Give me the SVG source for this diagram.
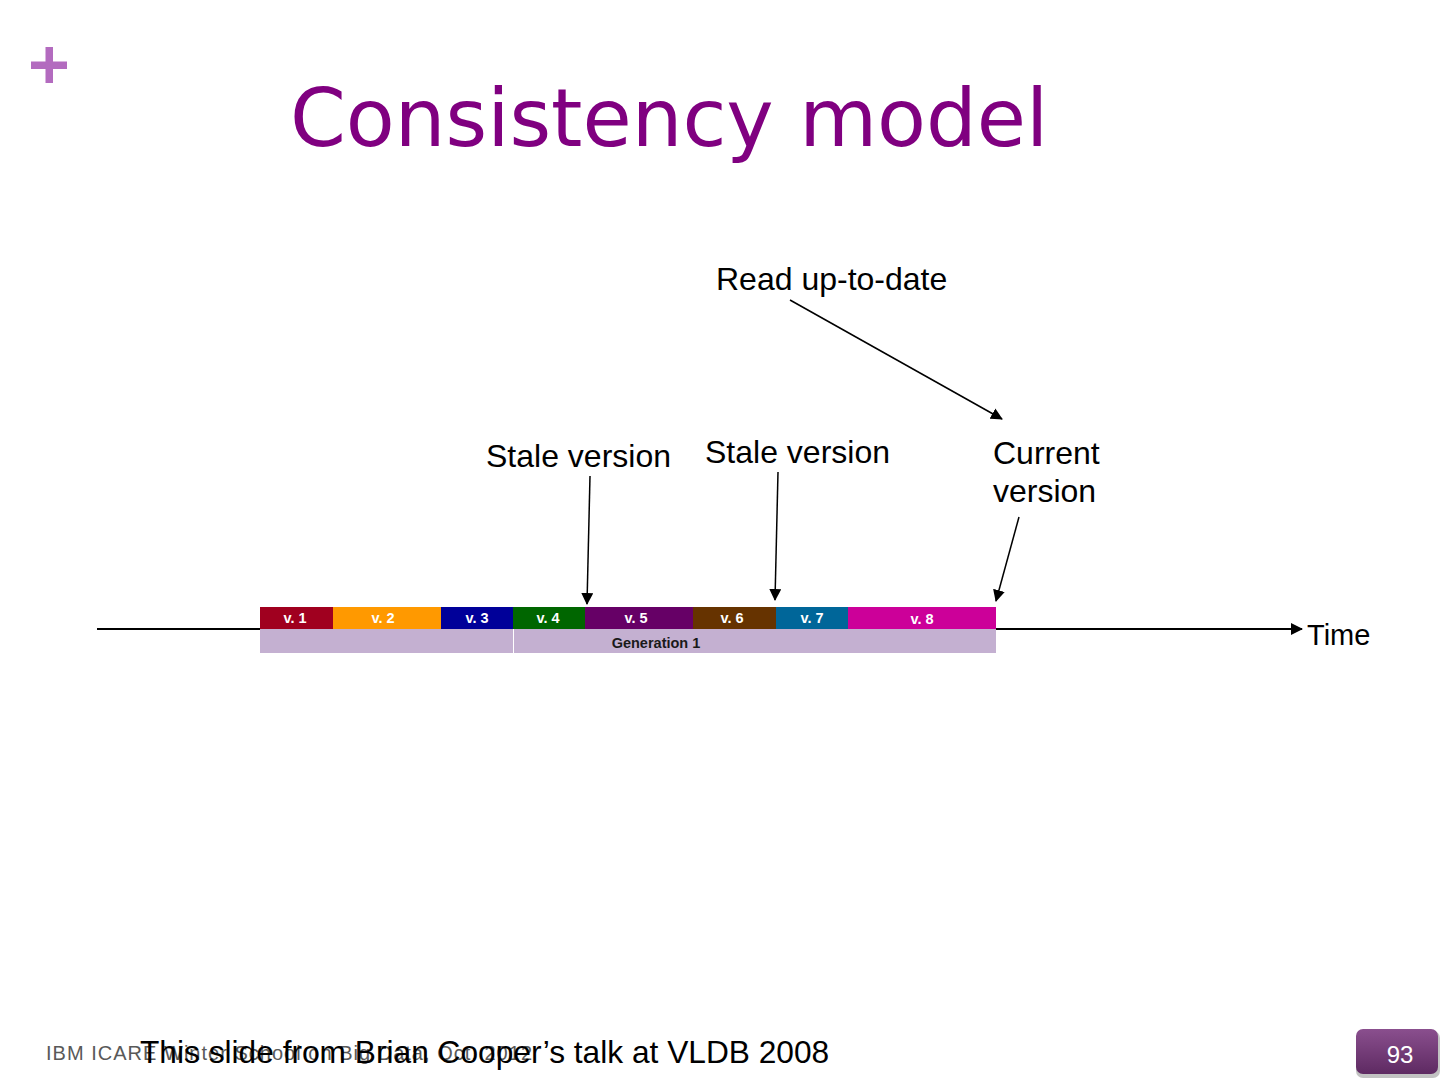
<svg xmlns="http://www.w3.org/2000/svg" width="1440" height="1080" viewBox="0 0 1440 1080">
<defs>
<marker id="ah" markerWidth="12" markerHeight="12" refX="11" refY="6" orient="auto" markerUnits="userSpaceOnUse">
<path d="M0,0 L12,6 L0,12 z" fill="#000"/>
</marker>
<linearGradient id="pg" x1="0" y1="0" x2="0" y2="1">
<stop offset="0" stop-color="#8a4f8e"/>
<stop offset="1" stop-color="#5e2a62"/>
</linearGradient>
</defs>
<style>
.lbl{font-family:"Liberation Sans",Arial,sans-serif;font-size:32px;fill:#000}
.ver{font-family:"Liberation Sans",Arial,sans-serif;font-size:14.5px;font-weight:bold;fill:#fff;text-anchor:middle}
.con{stroke:#000;stroke-width:1.5;fill:none;marker-end:url(#ah)}
</style>
<rect width="1440" height="1080" fill="#fff"/>
<g id="plus" fill="#b36bbf">
<rect x="31" y="61.5" width="36" height="7.5"/>
<rect x="45.5" y="47" width="7.5" height="36"/>
</g>
<text id="title" x="290" y="146" font-family="DejaVu Sans, sans-serif" font-size="80" fill="#800080">Consistency model</text>
<g id="connectors">
<line x1="97" y1="629" x2="1302" y2="629" stroke="#000" stroke-width="2" marker-end="url(#ah)"/>
<line class="con" x1="790" y1="300" x2="1002" y2="419"/>
<line class="con" x1="590" y1="476" x2="587" y2="604"/>
<line class="con" x1="778" y1="472" x2="775" y2="600"/>
<line class="con" x1="1019" y1="517" x2="996" y2="601"/>
</g>
<g id="timeline">
<rect x="260" y="629" width="736" height="24" fill="#c4b0d1"/>
<line x1="513.5" y1="629" x2="513.5" y2="653" stroke="#fff" stroke-width="1"/>
<text x="656" y="648" font-family="Liberation Sans, Arial, sans-serif" font-size="14.5" font-weight="bold" fill="#1a1a1a" text-anchor="middle">Generation 1</text>
<g id="v1"><rect x="260" y="607" width="73" height="22" fill="#a0001f"/><text class="ver" x="295" y="623">v. 1</text></g>
<g id="v2"><rect x="333" y="607" width="108" height="22" fill="#ff9900"/><text class="ver" x="383" y="623">v. 2</text></g>
<g id="v3"><rect x="441" y="607" width="72" height="22" fill="#000099"/><text class="ver" x="477" y="623">v. 3</text></g>
<g id="v4"><rect x="513" y="607" width="72" height="22" fill="#006600"/><text class="ver" x="548" y="623">v. 4</text></g>
<g id="v5"><rect x="585" y="607" width="108" height="22" fill="#660066"/><text class="ver" x="636" y="623">v. 5</text></g>
<g id="v6"><rect x="693" y="607" width="83" height="22" fill="#663300"/><text class="ver" x="732" y="623">v. 6</text></g>
<g id="v7"><rect x="776" y="607" width="72" height="22" fill="#006699"/><text class="ver" x="812" y="623">v. 7</text></g>
<g id="v8"><rect x="848" y="607" width="148" height="22" fill="#cc0099"/><text class="ver" x="922" y="624">v. 8</text></g>
</g>
<g id="labels">
<text class="lbl" x="716" y="290">Read up-to-date</text>
<text class="lbl" x="486" y="467">Stale version</text>
<text class="lbl" x="705" y="463">Stale version</text>
<text class="lbl" x="993" y="464">Current</text>
<text class="lbl" x="993" y="502">version</text>
<text x="1307" y="645" font-family="Liberation Sans, Arial, sans-serif" font-size="29" fill="#000">Time</text>
</g>
<g id="footer">
<text x="46" y="1060" font-family="Liberation Sans, Arial, sans-serif" font-size="20" fill="#595959" textLength="486" lengthAdjust="spacing">IBM ICARE Winter School on Big Data, Oct. 2012</text>
<text x="140" y="1063" font-family="Liberation Sans, Arial, sans-serif" font-size="31.7" fill="#000">This slide from Brian Cooper’s talk at VLDB 2008</text>
</g>
<g id="pagenum">
<rect x="1356" y="1031" width="84" height="47" rx="7" fill="#9a9a9a" opacity="0.6"/>
<rect x="1356" y="1029" width="82" height="45" rx="7" fill="url(#pg)"/>
<text x="1400" y="1063" font-family="Liberation Sans, Arial, sans-serif" font-size="24" fill="#fff" text-anchor="middle">93</text>
</g>
</svg>
